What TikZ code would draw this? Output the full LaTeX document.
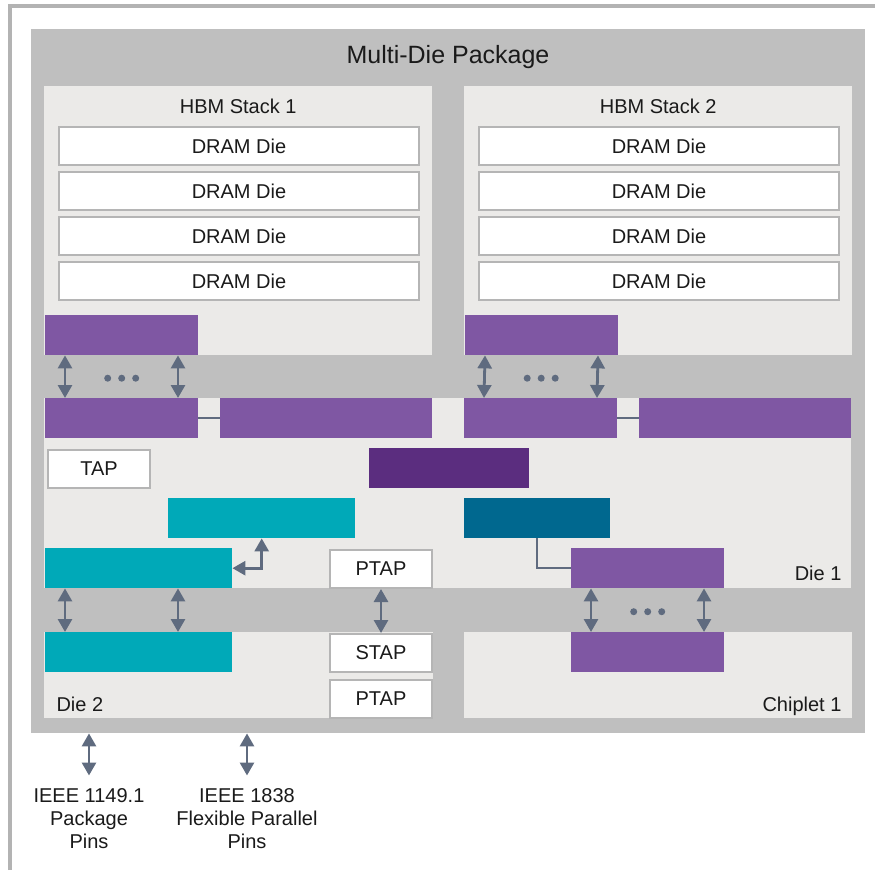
\documentclass[tikz,border=0pt]{standalone}
\usepackage{fontspec}
\setmainfont{Liberation Sans}
\usetikzlibrary{arrows.meta,calc}

\definecolor{pkggray}{HTML}{BFBFBF}
\definecolor{panelgray}{HTML}{EBEAE8}
\definecolor{framegray}{HTML}{B3B3B3}
\definecolor{boxgray}{HTML}{B5B5B5}
\definecolor{phypurple}{HTML}{7F57A3}
\definecolor{ctrlpurple}{HTML}{5B2D7F}
\definecolor{ipteal}{HTML}{00A9B8}
\definecolor{ipblue}{HTML}{00688F}
\definecolor{slate}{HTML}{5F6B7F}
\definecolor{ink}{HTML}{1A1A1A}

\tikzset{
	lbl/.style={font=\fontsize{20}{23}\selectfont, text=ink},
	blk/.style={rectangle, anchor=north west, inner sep=0pt, minimum height=40pt},
	panel/.style={blk, fill=panelgray},
	phy/.style={blk, fill=phypurple, minimum width=153pt},
	widephy/.style={blk, fill=phypurple, minimum width=212pt},
	tealbox/.style={blk, fill=ipteal, minimum width=187pt},
	tapbox/.style={blk, lbl, fill=white, draw=boxgray, line width=2pt, minimum width=102pt, minimum height=38pt},
	dram/.style={tapbox, minimum width=360pt},
	link/.style={{Triangle[width=14pt,length=13pt]}-{Triangle[width=14pt,length=13pt]}, draw=slate, line width=2.8pt},
	wire/.style={draw=slate, line width=2.5pt}
}

\begin{document}
\begin{tikzpicture}[x=1pt,y=-1pt]
		\pgfmathsetmacro{\dotgap}{14}
		\pgfmathsetmacro{\pinleft}{20}
		\pgfmathsetmacro{\pinright}{133}
		\useasboundingbox (0,0) rectangle (875,870);
		
		\draw[framegray, line width=4pt] (10.3,870) -- (10.3,6.3) -- (875,6.3);
		\node[blk, fill=pkggray, minimum width=834pt, minimum height=704pt] (pkg) at (31,29) {};
		\node[lbl, font=\fontsize{25}{30}\selectfont, anchor=base] (pkgtitle) at (448,63) {Multi-Die Package};
		
		% memory stacks
		\foreach \s/\x in {1/44, 2/464}
		{
			\node[panel, minimum width=388pt, minimum height=269pt] (hbm\s) at (\x,86) {};
			\node[lbl, anchor=base] (hbmtitle\s) at ($(hbm\s.north)+(0,27)$) {HBM Stack \s};
			\foreach \i in {0,...,3}
				\node[dram] (dram\s\i) at (\x+14,126+45*\i) {DRAM Die};
			\node[phy] (hbmphy\s) at (\x+1,315) {};
		}
		
		% die 1
		\node[panel, minimum width=807pt, minimum height=190pt] (die1) at (44,398) {};
		\node[phy] (d1phyA) at (45,398) {};
		\node[widephy] (d1phyB) at (220,398) {};
		\node[phy] (d1phyC) at (464,398) {};
		\node[widephy] (d1phyD) at (639,398) {};
		\node[tapbox] (tap) at (47,449) {TAP};
		\node[blk, fill=ctrlpurple, minimum width=160pt] (ctrl) at (369,448) {};
		\node[tealbox] (ipA) at (168,498) {};
		\node[blk, fill=ipblue, minimum width=146pt] (ipB) at (464,498) {};
		\node[tealbox] (ipC) at (45,548) {};
		\node[tapbox] (ptapA) at (329,549) {PTAP};
		\node[phy] (d1phyE) at (571,548) {};
		\node[lbl, anchor=base east] (die1lbl) at (845,580) {Die 1};
		
		% die 2 and chiplet
		\node[panel, minimum width=389pt, minimum height=86pt] (die2) at (44,632) {};
		\node[panel, minimum width=388pt, minimum height=86pt] (chip) at (464,632) {};
		\node[tealbox] (ipD) at (45,632) {};
		\node[tapbox] (stap) at (329,633) {STAP};
		\node[tapbox] (ptapB) at (329,679) {PTAP};
		\node[phy] (chipphy) at (571,632) {};
		\node[lbl, anchor=base west] (die2lbl) at (53,711) {Die 2};
		\node[lbl, anchor=base east] (chiplbl) at (845,711) {Chiplet 1};
		
		\draw[wire] (d1phyA.east) -- (d1phyB.west);
		\draw[wire] (d1phyC.east) -- (d1phyD.west);
		\draw[link] (ipA.south) |- (ipC.east);
		\draw[wire] (ipB.south) |- (d1phyE.west);
		\draw[link] (ptapA.south) -- (stap.north);
		
		\foreach \a/\b in {hbmphy1/d1phyA, hbmphy2/d1phyC, d1phyE/chipphy, ipC/ipD}
		{
			\draw[link] ([xshift=\pinleft pt]\a.south west) -- ([xshift=\pinleft pt]\b.north west);
			\draw[link] ([xshift=\pinright pt]\a.south west) -- ([xshift=\pinright pt]\b.north west);
		}
		\foreach \a/\b in {hbmphy1/d1phyA, hbmphy2/d1phyC, d1phyE/chipphy}
			\foreach \dx in {-\dotgap,0,\dotgap}
				\fill[slate] ($(\a.south)!0.5!(\b.north)+(\dx,1.5)$) circle[radius=3.5pt];
		
		% package pins
		\node[lbl, align=center, anchor=north, inner sep=0pt] (pinA) at (89,788.5) {IEEE 1149.1\\Package\\Pins};
		\node[lbl, align=center, anchor=north, inner sep=0pt] (pinB) at (247,788.5) {IEEE 1838\\Flexible Parallel\\Pins};
		\draw[link, shorten >=13pt] (pkg.south -| pinA.north) -- (pinA.north);
		\draw[link, shorten >=13pt] (pkg.south -| pinB.north) -- (pinB.north);
	\end{tikzpicture}
\end{document}
